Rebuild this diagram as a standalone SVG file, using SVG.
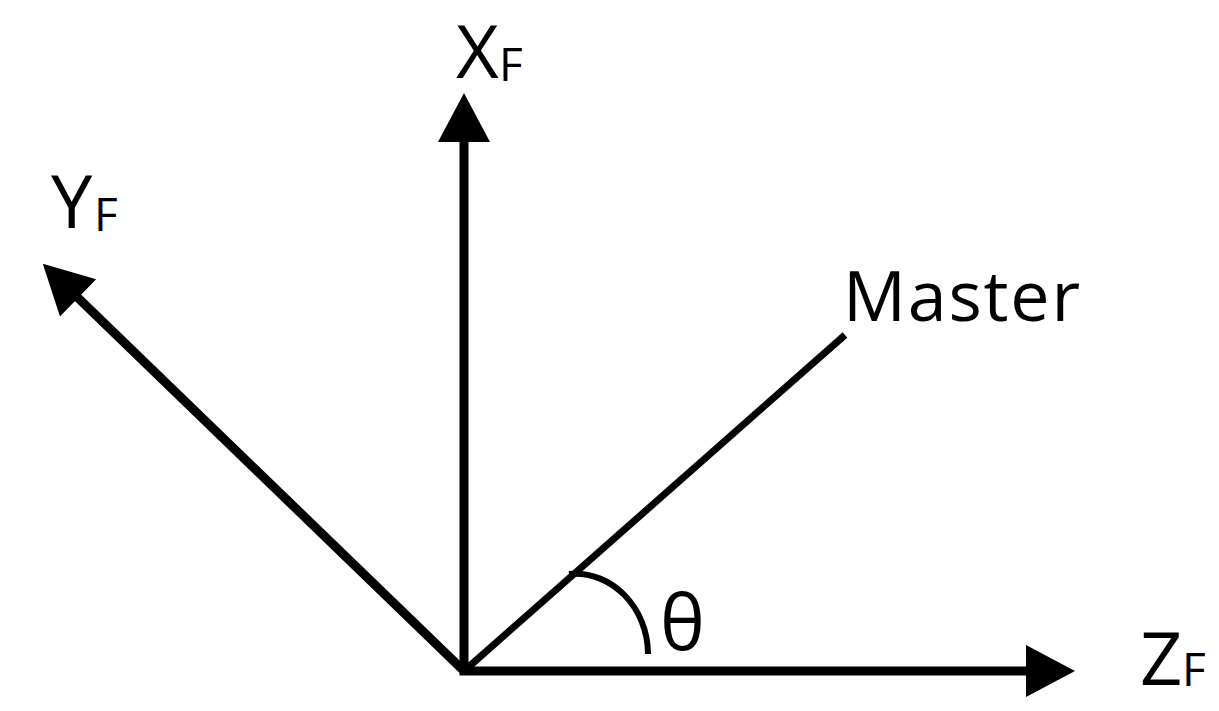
<svg xmlns="http://www.w3.org/2000/svg" width="1219" height="711" viewBox="0 0 1219 711">
<style>
.axis{stroke:#000;stroke-width:9;fill:none}
.thin{stroke:#000;stroke-width:7;fill:none}
.arc{stroke:#000;stroke-width:6;fill:none}
.lbl{font-family:"Open Sans","Liberation Sans",sans-serif;font-size:74px;fill:#000}
.sub{font-family:"Open Sans","Liberation Sans",sans-serif;font-size:46px;fill:#000}
</style>
<defs>
<marker id="ah" markerUnits="userSpaceOnUse" markerWidth="52" markerHeight="54" refX="2" refY="26" orient="auto" overflow="visible">
<path d="M0,0 L49,26 L0,52 z" fill="#000"/>
</marker>
</defs>
<rect width="1219" height="711" fill="#fff"/>
<g id="connectors">
<line id="x-axis" class="axis" x1="464" y1="671" x2="464" y2="140" marker-end="url(#ah)"/>
<line id="y-axis" class="axis" x1="464" y1="671" x2="76.6" y2="296.5" marker-end="url(#ah)"/>
<line id="z-axis" class="axis" x1="459.5" y1="671" x2="1028" y2="671" marker-end="url(#ah)"/>
<line id="master-line" class="thin" x1="464" y1="671" x2="845" y2="335"/>
<path id="theta-arc" class="arc" d="M569,574 C612,570 648,608 648,654"/>
</g>
<g id="label-x"><text class="lbl" x="456" y="78">X</text><text class="sub" x="499" y="81">F</text></g>
<g id="label-y"><text class="lbl" x="51" y="228">Y</text><text class="sub" x="94" y="231">F</text></g>
<g id="label-z"><text class="lbl" x="1140" y="685">Z</text><text class="sub" x="1182" y="686">F</text></g>
<g id="label-master"><text class="lbl" x="843" y="321" style="font-size:70px" textLength="237">Master</text></g>
<g id="label-theta"><text class="lbl" x="660" y="650" style="font-size:76px">θ</text></g>
</svg>
